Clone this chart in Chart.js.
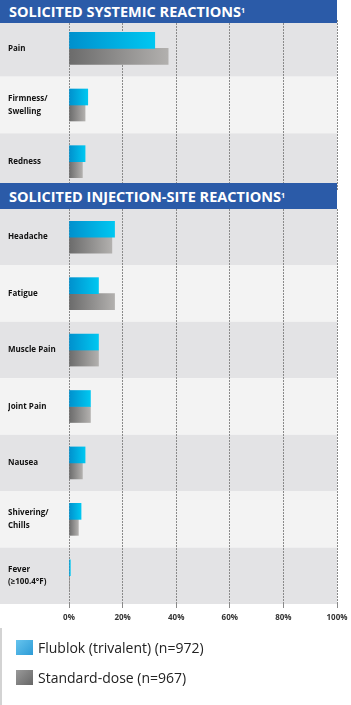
<!DOCTYPE html>
<html>
<head>
<meta charset="utf-8">
<script src="https://cdn.jsdelivr.net/npm/chart.js@4.4.1/dist/chart.umd.min.js"></script>
<style>
  body { margin: 0; width: 351px; height: 705px; position: relative; overflow: hidden; background: #fff; font-family: 'Open Sans', sans-serif; }
  .band { position: absolute; left: 0; width: 337px; background: #2b5ba8; color: #fff; font-weight: 700; font-size: 14.5px; padding-left: 9px; box-sizing: border-box; z-index: 2; white-space: nowrap; }
  .band sup { font-size: 7px; vertical-align: top; position: relative; top: -1px; }
  canvas { position: absolute; left: 0; }
  .legend-line { position: absolute; left: 0; top: 628px; width: 2px; height: 77px; background: #d3d3d3; }
  .legend-item { position: absolute; left: 16px; font-size: 14px; color: #222; display: flex; align-items: center; }
  .legend-item span.sw { display: inline-block; width: 17px; height: 15px; margin-right: 5px; }
</style>
</head>
<body>
<div class="band" style="top:0;height:23px;line-height:24px">SOLICITED SYSTEMIC REACTIONS<sup>1</sup></div>
<canvas id="chartSystemic" width="351" height="170" style="top:20px"></canvas>
<div class="band" style="top:183px;height:26px;line-height:27px">SOLICITED INJECTION-SITE REACTIONS<sup>1</sup></div>
<canvas id="chartSite" width="351" height="431" style="top:209px"></canvas>
<div class="legend-line"></div>
<div class="legend-item" style="top:638px"><span class="sw" style="background:linear-gradient(135deg,#66c4ee,#2d9bd6)"></span>Flublok (trivalent) (n=972)</div>
<div class="legend-item" style="top:668px"><span class="sw" style="background:linear-gradient(135deg,#9a9a9a,#666)"></span>Standard-dose (n=967)</div>

<script>
// données (%)
const systemicLabels = ['Pain', ['Firmness/', 'Swelling'], 'Redness'];
const systemicFlublok = [32, 7, 6];
const systemicStandard = [37, 6, 5];

const siteLabels = ['Headache', 'Fatigue', 'Muscle Pain', 'Joint Pain', 'Nausea', ['Shivering/', 'Chills'], ['Fever', '(≥100.4°F)']];
const siteFlublok = [17, 11, 11, 8, 6, 4.5, 0.5];
const siteStandard = [16, 17, 11, 8, 5, 3.5, 0.2];

const tickValues = [0, 20, 40, 60, 80, 100];
const seriesNames = ['Flublok (trivalent) (n=972)', 'Standard-dose (n=967)'];

// bandes de fond alternées
const rowBands = {
    id: 'rowBands',
    beforeDraw(chart) {
        const y = chart.scales.y;
        const ctx = chart.ctx;
        const n = chart.data.labels.length;
        const h = (y.bottom - y.top) / n;
        for (let i = 0; i < n; i++) {
            ctx.fillStyle = i % 2 === 0 ? '#e3e3e5' : '#f3f3f3';
            ctx.fillRect(0, y.top + i * h, chart.chartArea.right, h);
        }
    }
};

function barGradient(dark, light) {
    return (c) => {
        const chart = c.chart;
        if (!chart.chartArea || c.type !== 'data') return dark;
        const x = chart.scales.x;
        const x0 = x.getPixelForValue(0);
        const x1 = Math.max(x.getPixelForValue(c.raw), x0 + 1);
        const g = chart.ctx.createLinearGradient(x0, 0, x1, 0);
        g.addColorStop(0, dark);
        g.addColorStop(1, light);
        return g;
    };
}

function makeChart(id, labels, flublok, standard, showTicks) {
    const ctx = document.getElementById(id).getContext('2d');
    return new Chart(ctx, {
        type: 'bar',
        data: {
            labels: labels,
            datasets: [{
                label: seriesNames[0],
                data: flublok,
                backgroundColor: barGradient('#0090cd', '#00c7f1'),
                barThickness: 16
            }, {
                label: seriesNames[1],
                data: standard,
                backgroundColor: barGradient('#6b6b6b', '#b2b0ae'),
                barThickness: 16
            }]
        },
        options: {
            indexAxis: 'y',
            responsive: false,
            animation: false,
            layout: { padding: { left: 8, right: 14, top: 0, bottom: 0 } },
            scales: {
                x: {
                    min: 0,
                    max: 100,
                    afterBuildTicks: (scale) => { scale.ticks = tickValues.map(v => ({ value: v })); },
                    afterFit: (scale) => {
                        scale.height = showTicks ? 36 : 0;
                        scale.paddingLeft = 0;
                        scale.paddingRight = 0;
                    },
                    grid: { color: '#8a8a8a', lineWidth: 1, drawTicks: showTicks, tickLength: 4 },
                    border: { display: false, dash: [2, 1] },
                    ticks: {
                        display: showTicks,
                        padding: 5,
                        color: '#333',
                        font: { family: 'Open Sans', size: 8, weight: 'bold' },
                        callback: (v) => v + '%'
                    }
                },
                y: {
                    afterFit: (scale) => {
                        scale.width = 61;
                        scale.paddingTop = 0;
                        scale.paddingBottom = 0;
                    },
                    grid: { display: false },
                    border: { display: false },
                    ticks: {
                        crossAlign: 'far',
                        color: '#111',
                        font: { family: 'Open Sans', size: 8, weight: 'bold', lineHeight: 1.6 }
                    }
                }
            },
            plugins: {
                legend: { display: false },
                tooltip: { enabled: false }
            }
        },
        plugins: [rowBands]
    });
}

makeChart('chartSystemic', systemicLabels, systemicFlublok, systemicStandard, false);
makeChart('chartSite', siteLabels, siteFlublok, siteStandard, true);
</script>
</body>
</html>
